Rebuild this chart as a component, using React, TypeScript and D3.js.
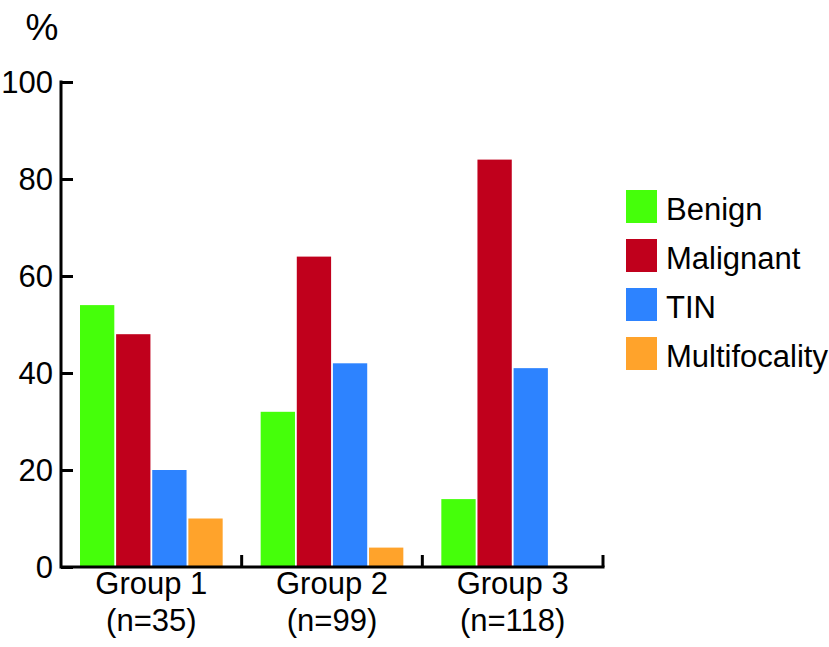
import React, { useEffect, useRef } from "react";
import * as d3 from "d3";

const groups = ["Group 1", "Group 2", "Group 3"];
const groupN = ["(n=35)", "(n=99)", "(n=118)"];
const series = ["Benign", "Malignant", "TIN", "Multifocality"];
const colors = ["#45ff0a", "#c0001c", "#2d83ff", "#ffa32b"];

// values per series, in group order
const benign = [54, 32, 14];
const malignant = [48, 64, 84];
const tin = [20, 42, 41];
const multifocality = [10, 4, 0];

const yTicks = [0, 20, 40, 60, 80, 100];

const App = () => {
  const svgRef = useRef<SVGSVGElement>(null);

  useEffect(() => {
    const width = 829;
    const height = 647;
    const font = "'Liberation Sans', Arial, Helvetica, sans-serif";
    const fs = 31;
    const values = [benign, malignant, tin, multifocality];

    const svg = d3.select(svgRef.current).attr("width", width).attr("height", height);
    svg.selectAll("*").remove();

    const x0 = d3.scaleBand().domain(groups).range([61, 603]).padding(0);
    const x1 = d3
      .scaleBand()
      .domain(series)
      .range([19, x0.bandwidth() - 19])
      .paddingInner(0.05)
      .paddingOuter(0);
    const y = d3.scaleLinear().domain([0, 100]).range([567, 82]);

    // bars
    series.forEach((s, si) => {
      svg
        .append("g")
        .selectAll("rect")
        .data(values[si])
        .enter()
        .append("rect")
        .attr("x", (d, i) => (x0(groups[i]) as number) + (x1(s) as number))
        .attr("y", (d) => y(d))
        .attr("width", x1.bandwidth())
        .attr("height", (d) => y(0) - y(d))
        .attr("fill", colors[si]);
    });

    // y axis
    const yAxis = svg
      .append("g")
      .attr("transform", "translate(61,0)")
      .call(d3.axisRight(y).tickValues(yTicks).tickSize(12).tickFormat(() => ""));
    yAxis.select(".domain").remove();
    yAxis.selectAll("line").attr("stroke", "#000").attr("stroke-width", 3);
    svg
      .append("line")
      .attr("x1", 61)
      .attr("x2", 61)
      .attr("y1", y(100) - 1.5)
      .attr("y2", y(0) + 1.5)
      .attr("stroke", "#000")
      .attr("stroke-width", 3);
    svg
      .append("g")
      .selectAll("text")
      .data(yTicks)
      .enter()
      .append("text")
      .attr("x", 53)
      .attr("y", (d) => y(d))
      .attr("dy", "0.36em")
      .attr("text-anchor", "end")
      .attr("font-family", font)
      .attr("font-size", fs)
      .text((d) => d);

    // x axis
    svg
      .append("line")
      .attr("x1", 61)
      .attr("x2", 604.5)
      .attr("y1", y(0))
      .attr("y2", y(0))
      .attr("stroke", "#000")
      .attr("stroke-width", 3);
    const bounds = [...groups.slice(1).map((g) => x0(g) as number), 603];
    svg
      .append("g")
      .selectAll("line")
      .data(bounds)
      .enter()
      .append("line")
      .attr("x1", (d) => d)
      .attr("x2", (d) => d)
      .attr("y1", y(0))
      .attr("y2", y(0) - 12)
      .attr("stroke", "#000")
      .attr("stroke-width", 3);

    const labels = svg.append("g").attr("font-family", font).attr("font-size", fs).attr("text-anchor", "middle");
    groups.forEach((g, i) => {
      const cx = (x0(g) as number) + x0.bandwidth() / 2;
      labels.append("text").attr("x", cx).attr("y", 594).text(g);
      labels.append("text").attr("x", cx).attr("y", 631).text(groupN[i]);
    });

    // unit
    svg
      .append("text")
      .attr("x", 42)
      .attr("y", 40)
      .attr("text-anchor", "middle")
      .attr("font-family", font)
      .attr("font-size", 37)
      .text("%");

    // legend
    const legend = svg.append("g").attr("transform", "translate(626,190)");
    series.forEach((s, i) => {
      const row = legend.append("g").attr("transform", `translate(0,${i * 49})`);
      row.append("rect").attr("width", 31).attr("height", 33).attr("fill", colors[i]);
      row
        .append("text")
        .attr("x", 40)
        .attr("y", 30)
        .attr("font-family", font)
        .attr("font-size", fs)
        .text(s);
    });
  }, []);

  return (
    <svg
      ref={svgRef}
      style={{ position: "absolute", left: 0, top: 0, background: "#fff" }}
    ></svg>
  );
};

export default App;
